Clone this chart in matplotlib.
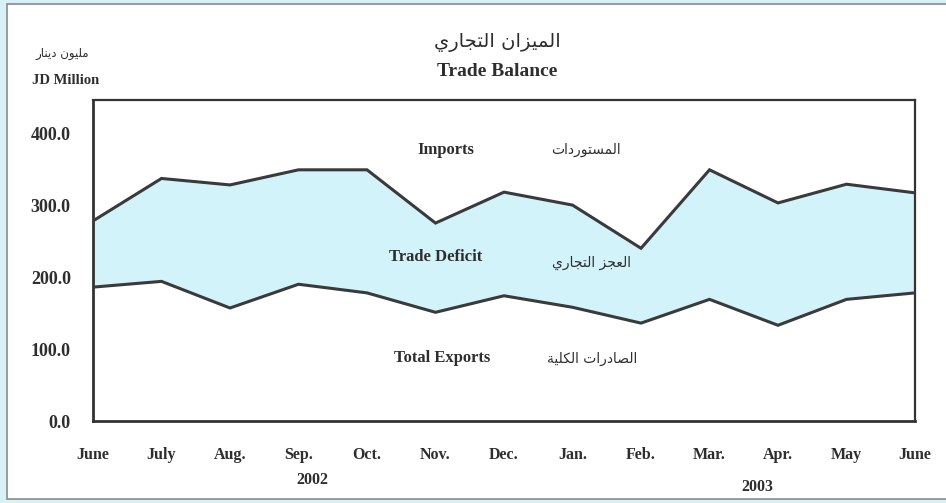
import matplotlib
matplotlib.use("Agg")
import matplotlib.pyplot as plt
from matplotlib.patches import Rectangle

# ---------------- data ----------------
months = ["June", "July", "Aug.", "Sep.", "Oct.", "Nov.", "Dec.",
          "Jan.", "Feb.", "Mar.", "Apr.", "May", "June"]
imports = [278, 337, 328, 349, 349, 275, 318, 300, 240, 349, 303, 329, 317]
exports = [186, 194, 157, 190, 178, 151, 174, 158, 136, 169, 133, 169, 178]
y_ticks = [0, 100, 200, 300, 400]
years = ["2002", "2003"]

# ---------------- minimal Arabic shaping ----------------
FORMS = {  # isolated, final, initial, medial
    'ا': ('\uFE8D', '\uFE8E', None, None),
    'ت': ('\uFE95', '\uFE96', '\uFE97', '\uFE98'),
    'ة': ('\uFE93', '\uFE94', None, None),
    'ج': ('\uFE9D', '\uFE9E', '\uFE9F', '\uFEA0'),
    'د': ('\uFEA9', '\uFEAA', None, None),
    'ر': ('\uFEAD', '\uFEAE', None, None),
    'ز': ('\uFEAF', '\uFEB0', None, None),
    'س': ('\uFEB1', '\uFEB2', '\uFEB3', '\uFEB4'),
    'ص': ('\uFEB9', '\uFEBA', '\uFEBB', '\uFEBC'),
    'ع': ('\uFEC9', '\uFECA', '\uFECB', '\uFECC'),
    'ك': ('\uFED9', '\uFEDA', '\uFEDB', '\uFEDC'),
    'ل': ('\uFEDD', '\uFEDE', '\uFEDF', '\uFEE0'),
    'م': ('\uFEE1', '\uFEE2', '\uFEE3', '\uFEE4'),
    'ن': ('\uFEE5', '\uFEE6', '\uFEE7', '\uFEE8'),
    'و': ('\uFEED', '\uFEEE', None, None),
    'ي': ('\uFEF1', '\uFEF2', '\uFEF3', '\uFEF4'),
}


def dual(ch):
    return ch in FORMS and FORMS[ch][2] is not None


def shape(text):
    out = []
    n = len(text)
    for i, ch in enumerate(text):
        if ch not in FORMS:
            out.append(ch)
            continue
        prev = text[i - 1] if i > 0 else ''
        nxt = text[i + 1] if i < n - 1 else ''
        jp = dual(prev)
        jn = dual(ch) and nxt in FORMS
        iso, fin, ini, med = FORMS[ch]
        if jp and jn:
            out.append(med)
        elif jp:
            out.append(fin)
        elif jn:
            out.append(ini)
        else:
            out.append(iso)
    return ''.join(reversed(out))


AR = ['DejaVu Sans']
SERIF = ['Liberation Serif', 'DejaVu Serif']
TXT = '#2e2e2e'

# ---------------- figure ----------------
fig = plt.figure(figsize=(9.46, 5.03), dpi=100)
fig.patch.set_facecolor('#d8f1f6')
fig.add_artist(Rectangle((7 / 946, 4 / 503), 1.0, 495 / 503,
                         transform=fig.transFigure, facecolor='white',
                         edgecolor='#8a8a8a', linewidth=1.2, zorder=0))

ax = fig.add_axes([93 / 946, (503 - 421) / 503, (915 - 93) / 946, (421 - 100) / 503])
ax.set_facecolor('white')
x = list(range(len(months)))

ax.fill_between(x, exports, imports, color='#d2f3f9', zorder=1, linewidth=0)
ax.plot(x, imports, color='#3a3a3a', lw=2.2, zorder=3, solid_joinstyle='miter')
ax.plot(x, exports, color='#3a3a3a', lw=2.2, zorder=3, solid_joinstyle='miter')

ax.set_xlim(0, len(months) - 1)
ax.set_ylim(0, 446)
ax.set_yticks(y_ticks)
ax.set_yticklabels([f"{v:.1f}" for v in y_ticks], fontfamily=SERIF,
                   fontweight='bold', fontsize=13, color=TXT)
ax.set_xticks(x)
ax.set_xticklabels(months, fontfamily=SERIF, fontweight='bold',
                   fontsize=11.5, color=TXT)
ax.tick_params(axis='both', length=0)
ax.tick_params(axis='y', pad=16)
ax.tick_params(axis='x', pad=19)
for side, lw in (('left', 2.0), ('bottom', 2.0), ('top', 1.6), ('right', 1.6)):
    ax.spines[side].set_linewidth(lw)
    ax.spines[side].set_color('#333333')

# year labels
ax.text(3.2, -0.185, years[0], transform=ax.get_xaxis_transform(),
        ha='center', va='center', fontfamily=SERIF, fontweight='bold',
        fontsize=11.5, color=TXT)
ax.text(9.7, -0.205, years[1], transform=ax.get_xaxis_transform(),
        ha='center', va='center', fontfamily=SERIF, fontweight='bold',
        fontsize=11.5, color=TXT)

# in-chart labels (figure pixel coordinates)
def fig_text(px, py, s, **kw):
    fig.text(px / 946, 1 - py / 503, s, ha='center', va='center', color=TXT, **kw)

fig_text(446, 150, "Imports", fontfamily=SERIF, fontweight='bold', fontsize=12)
fig_text(586, 150, shape("المستوردات"), fontfamily=AR, fontsize=10)
fig_text(436, 257, "Trade Deficit", fontfamily=SERIF, fontweight='bold', fontsize=12)
fig_text(592, 263, shape("العجز التجاري"), fontfamily=AR, fontsize=10)
fig_text(442, 358, "Total Exports", fontfamily=SERIF, fontweight='bold', fontsize=12)
fig_text(592, 359, shape("الصادرات الكلية"), fontfamily=AR, fontsize=10)

# titles
fig_text(497, 42, shape("الميزان التجاري"), fontfamily=AR, fontsize=14)
fig_text(497, 72, "Trade Balance", fontfamily=SERIF, fontweight='bold', fontsize=14)
fig_text(62, 54, shape("مليون دينار"), fontfamily=AR, fontsize=8.5)
fig_text(66, 80, "JD Million", fontfamily=SERIF, fontweight='bold', fontsize=10.5)

fig.savefig("out.png", dpi=100, facecolor=fig.get_facecolor())
